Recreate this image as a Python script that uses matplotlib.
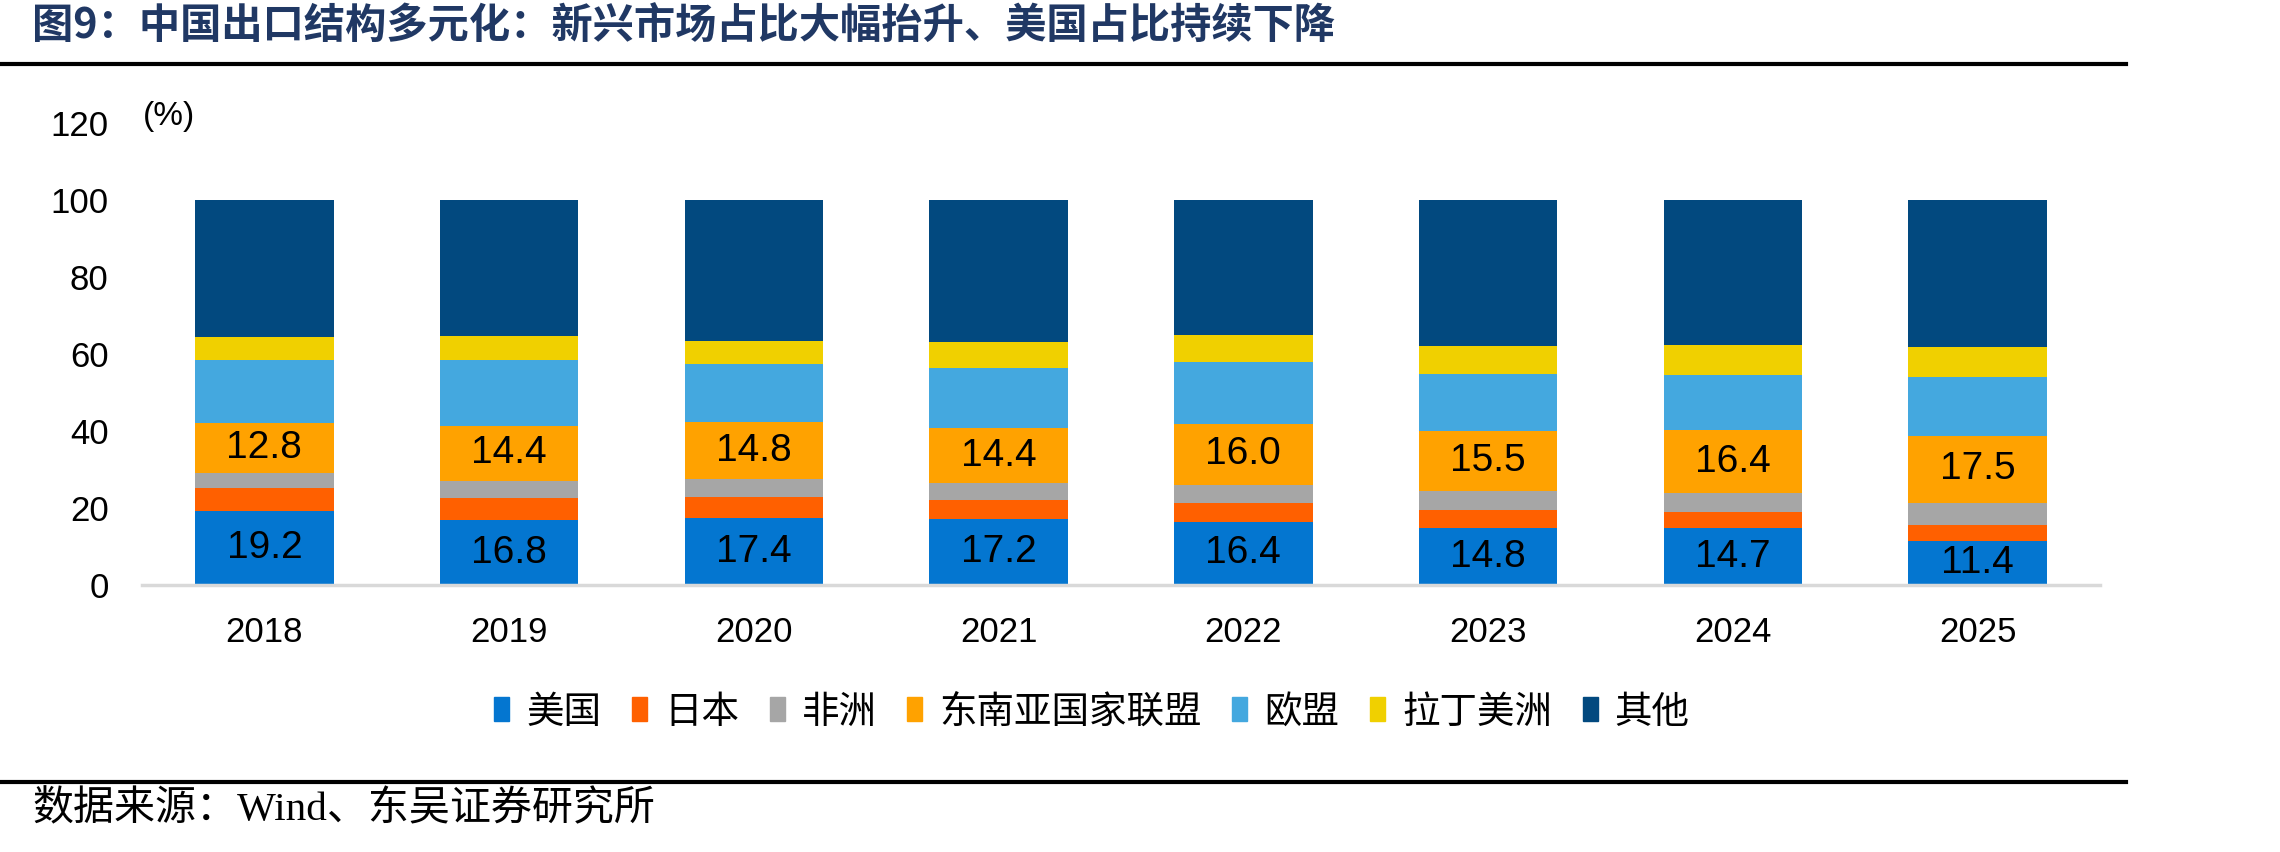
import matplotlib
matplotlib.use("Agg")
import matplotlib.pyplot as plt
from matplotlib.patches import Rectangle
from matplotlib.lines import Line2D
import numpy as np

plt.rcParams['font.family'] = ['Liberation Sans', 'Noto Sans CJK SC', 'DejaVu Sans']

years = ['2018', '2019', '2020', '2021', '2022', '2023', '2024', '2025']
series_names = ['美国', '日本', '非洲', '东南亚国家联盟', '欧盟', '拉丁美洲', '其他']
us     = [19.2, 16.8, 17.4, 17.2, 16.4, 14.8, 14.7, 11.4]
japan  = [5.9, 5.7, 5.5, 4.9, 4.8, 4.6, 4.3, 4.1]
africa = [4.1, 4.5, 4.6, 4.3, 4.7, 5.0, 4.8, 5.8]
asean  = [12.8, 14.4, 14.8, 14.4, 16.0, 15.5, 16.4, 17.5]
eu     = [16.4, 17.0, 15.2, 15.5, 16.0, 14.8, 14.4, 15.2]
latam  = [6.0, 6.2, 5.9, 6.8, 7.1, 7.5, 7.7, 7.9]
other  = [35.6, 35.4, 36.6, 36.9, 35.0, 37.8, 37.7, 38.1]
labeled = {0: us, 3: asean}

colors = ['#0476D0', '#FF6000', '#A6A6A6', '#FFA200', '#44A8DF', '#F0D000', '#02497F']

W, H = 2280, 852
fig = plt.figure(figsize=(W / 100, H / 100), dpi=100)

ax = fig.add_axes([142 / W, 1 - 585 / H, (2100 - 142) / W, (585 - 123) / H])
x = np.arange(len(years))
bottom = np.zeros(len(years))
all_series = [us, japan, africa, asean, eu, latam, other]
for i, (vals, c) in enumerate(zip(all_series, colors)):
    v = np.array(vals)
    ax.bar(x, v, bottom=bottom, width=0.565, color=c, linewidth=0, zorder=2)
    if i in labeled:
        for xi, b, val in zip(x, bottom, v):
            ax.text(xi, b + val / 2, f'{val:.1f}', ha='center', va='center',
                    fontsize=28, color='black',
                    family=['Liberation Sans Narrow', 'Liberation Sans'])
    bottom += v

ax.set_xlim(-0.5, 7.5)
ax.set_ylim(0, 120)
ax.set_yticks(range(0, 121, 20))
ax.set_xticks(x)
ax.set_xticklabels(years)
ax.tick_params(axis='both', length=0, labelsize=25)
ax.tick_params(axis='y', pad=24)
ax.tick_params(axis='x', pad=22)
for s in ['top', 'right', 'left']:
    ax.spines[s].set_visible(False)
ax.spines['bottom'].set_color('#D9D9D9')
ax.spines['bottom'].set_linewidth(2.5)
ax.spines['bottom'].set_zorder(3)

fig.text(143 / W, 1 - 116 / H, '(%)', fontsize=24, ha='left', va='center')

handles = [Rectangle((0, 0), 1, 1, color=c) for c in colors]
fig.legend(handles, series_names, loc='center', bbox_to_anchor=(1092 / W, 1 - 712 / H),
           ncol=7, frameon=False, handlelength=0.4, handleheight=0.6,
           handletextpad=0.45, columnspacing=0.82, prop={'family': ['Noto Sans CJK SC'], 'size': 27})

# title and rules
fig.text(32 / W, 1 - 27 / H, '图9：中国出口结构多元化：新兴市场占比大幅抬升、美国占比持续下降',
         fontsize=29.7, fontweight='bold', color='#203864', ha='left', va='center',
         family=['Noto Sans CJK SC'])
fig.add_artist(Line2D([0, 2126 / W], [1 - 64 / H, 1 - 64 / H], color='black', linewidth=3,
                      transform=fig.transFigure))
fig.add_artist(Line2D([0, 2126 / W], [1 - 782 / H, 1 - 782 / H], color='black', linewidth=3,
                      transform=fig.transFigure))
fig.text(32 / W, 1 - 810 / H, '数据来源：Wind、东吴证券研究所', fontsize=29.5, ha='left', va='center',
         family=['Liberation Serif', 'Noto Sans CJK SC'])

fig.savefig('out.png', dpi=100)
